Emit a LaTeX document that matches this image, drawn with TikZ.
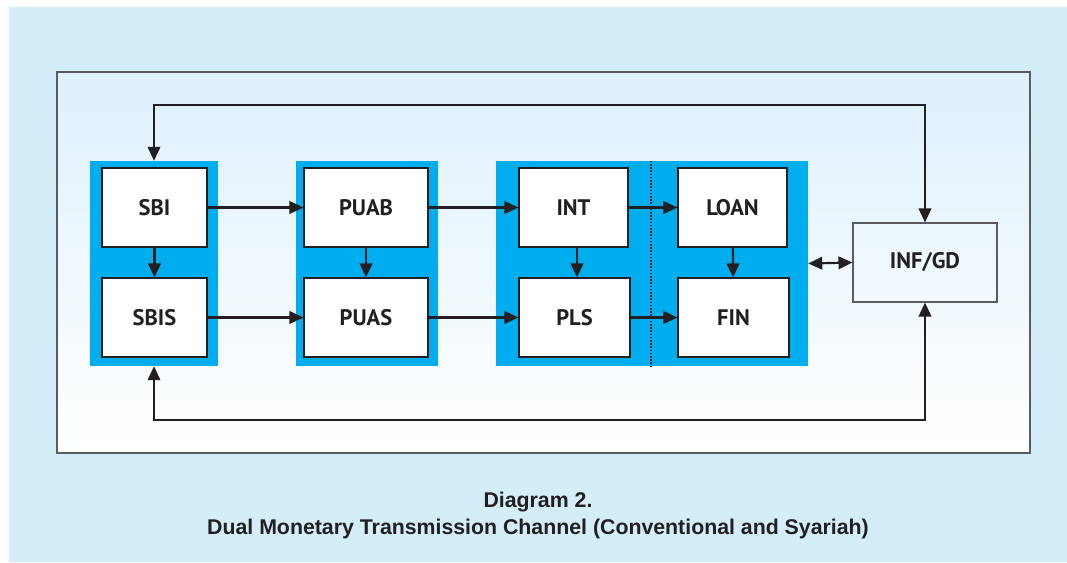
\documentclass[tikz,border=0pt]{standalone}
\usepackage{fontspec}
\setmainfont{Liberation Sans}
\newfontfamily\boxfont{PT Sans}
\usetikzlibrary{arrows.meta}
\definecolor{bgblue}{HTML}{D3EDF9}
\definecolor{paneltop}{HTML}{DDF0FB}
\definecolor{grpblue}{HTML}{00ADEF}
\definecolor{ink}{HTML}{231F20}
\definecolor{frame}{HTML}{5A5A5F}
\begin{document}
\begin{tikzpicture}[x=1pt,y=-1pt,
  conn/.style={line width=2.2pt, draw=ink, -{Triangle[length=14pt,width=12.5pt]}},
  dconn/.style={line width=2.2pt, draw=ink, {Triangle[length=14pt,width=12.5pt]}-{Triangle[length=14pt,width=12.5pt]}},
  grp/.style={fill=grpblue, draw=none, inner sep=0pt, minimum height=205pt},
  boxw/.style={draw=ink, line width=1.1pt, fill=white, inner sep=0pt, minimum height=79pt,
    text=ink, font=\boxfont\bfseries\fontsize{22.5}{26}\selectfont},
  capt/.style={text=ink, font=\bfseries\fontsize{21.3}{25}\selectfont, anchor=base, inner sep=0pt}
]
\useasboundingbox (0,0) rectangle (1067,562);
\fill[white] (0,0) rectangle (1067,562);
\fill[bgblue] (9,7) rectangle (1067,562);
\shade[top color=paneltop, bottom color=white] (57,72) rectangle (1030,453);
\draw[frame, line width=1.2pt] (57,72) rectangle (1030,453);

% groups
\node[grp, minimum width=128pt] (g1) at (154,263.5) {};
\node[grp, minimum width=142pt] (g2) at (367,263.5) {};
\node[grp, minimum width=312pt] (g3) at (652,263.5) {};
\draw[ink, line width=2pt, dash pattern=on 1.6pt off 1.6pt] (g3.north -| 651,0) -- (g3.south -| 651,0);

% boxes
\node[boxw, minimum width=105pt] (sbi)  at (154.5,207.5) {SBI};
\node[boxw, minimum width=105pt] (sbis) at (154.5,317.5) {SBIS};
\node[boxw, minimum width=124pt] (puab) at (366,207.5) {PUAB};
\node[boxw, minimum width=124pt] (puas) at (366,317.5) {PUAS};
\node[boxw, minimum width=109pt] (int)  at (573.5,207.5) {INT};
\node[boxw, minimum width=111pt] (pls)  at (574.5,317.5) {PLS};
\node[boxw, minimum width=109pt] (loan) at (732.5,207.5) {LOAN};
\node[boxw, minimum width=111pt] (fin)  at (733.5,317.5) {FIN};
\node[boxw, minimum width=144pt, fill=none, draw=frame] (inf) at (925,262.5) {INF/GD};

% connectors
\draw[conn] (sbi) -- (sbis);
\draw[conn] (puab) -- (puas);
\draw[conn] (int.south -| 577,0) -- (pls.north -| 577,0);
\draw[conn] (loan) -- (fin);
\draw[conn] (sbi) -- (puab);
\draw[conn] (sbis) -- (puas);
\draw[conn] (puab) -- (int);
\draw[conn] (puas) -- (pls);
\draw[conn] (int) -- (loan);
\draw[conn] (pls) -- (fin);
\draw[dconn] (g3.east) -- (inf.west);

\coordinate (topy) at (0,105);
\coordinate (boty) at (0,420);
\draw[dconn] (g1.north) -- (g1.north |- topy) -| (inf.north);
\draw[dconn] (g1.south) -- (g1.south |- boty) -| (inf.south);

% caption
\node[capt] (cap1) at (538,507) {Diagram 2.};
\node[capt] (cap2) at (538,534) {Dual Monetary Transmission Channel (Conventional and Syariah)};
\end{tikzpicture}
\end{document}
